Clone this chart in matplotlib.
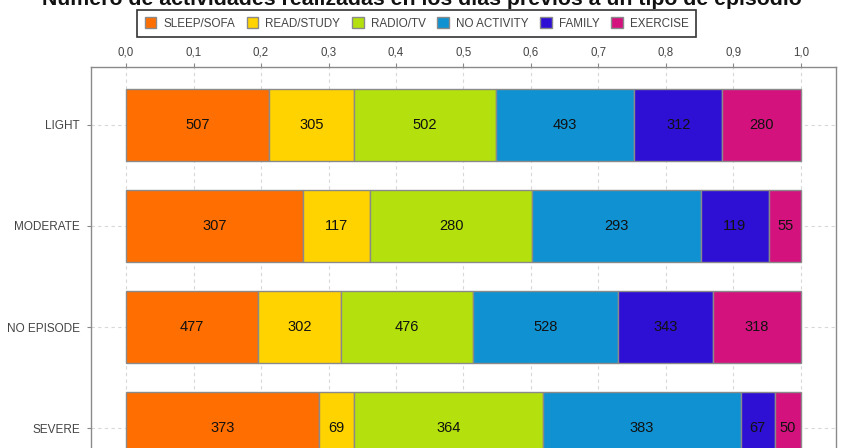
import matplotlib
matplotlib.use("Agg")
import matplotlib.pyplot as plt
import numpy as np
from matplotlib.ticker import FuncFormatter

plt.rcParams['font.family'] = ['Liberation Sans', 'DejaVu Sans']

title = "Número de actividades realizadas en los días previos a un tipo de episodio"
categories = ["LIGHT", "MODERATE", "NO EPISODE", "SEVERE"]
activities = ["SLEEP/SOFA", "READ/STUDY", "RADIO/TV", "NO ACTIVITY", "FAMILY", "EXERCISE"]
sleep_sofa = [507, 307, 477, 373]
read_study = [305, 117, 302, 69]
radio_tv = [502, 280, 476, 364]
no_activity = [493, 293, 528, 383]
family = [312, 119, 343, 67]
exercise = [280, 55, 318, 50]
colors = ["#FF6E00", "#FFD300", "#B4E10D", "#1092D2", "#2E0FD4", "#D3127E"]
x_ticks = [0.0, 0.1, 0.2, 0.3, 0.4, 0.5, 0.6, 0.7, 0.8, 0.9, 1.0]

series = np.array([sleep_sofa, read_study, radio_tv, no_activity, family, exercise], dtype=float)
totals = series.sum(axis=0)
shares = series / totals

W, H = 843, 448
fig = plt.figure(figsize=(W / 100, H / 100), dpi=100)
left, right, top, bottom = 91, 836, 67, 486
ax = fig.add_axes([left / W, (H - bottom) / H, (right - left) / W, (bottom - top) / H])

ypos = np.arange(len(categories))
ax.set_axisbelow(True)
start = np.zeros(len(categories))
for i, name in enumerate(activities):
    bars = ax.barh(ypos, shares[i], left=start, height=0.713, color=colors[i],
                   edgecolor="#8a8a8a", linewidth=1.0, label=name, zorder=2)
    for j, b in enumerate(bars):
        ax.text(start[j] + shares[i][j] / 2, ypos[j], f"{int(series[i][j])}",
                ha="center", va="center", fontsize=10.5, color="#111111", zorder=3)
    start += shares[i]

ax.set_xlim(-0.0519, 1.0519)
ax.set_ylim(3.574, -0.574)
ax.set_yticks(ypos)
ax.set_yticklabels(categories)
ax.set_xticks(x_ticks)
ax.xaxis.set_major_formatter(FuncFormatter(lambda v, p: f"{v:.1f}".replace(".", ",")))
ax.xaxis.tick_top()
ax.tick_params(axis="x", length=3, width=0.8, color="#888888", labelsize=8.3,
               labelcolor="#444444", pad=3)
ax.tick_params(axis="y", length=3, width=0.8, color="#888888", labelsize=8.5,
               labelcolor="#444444", pad=5)
ax.grid(True, linestyle=(0, (3, 3)), color="#d8d8d8", linewidth=0.8, zorder=0)
for s in ax.spines.values():
    s.set_color("#8a8a8a")
    s.set_linewidth(1.0)

fig.text(0.5, 1 - 5 / H, title, ha="center", va="baseline", fontsize=15.3,
         fontweight="bold", color="#111111")

leg = fig.legend(loc="center", bbox_to_anchor=(416.5 / W, 1 - 23.5 / H), ncol=6,
                 fontsize=8.4, frameon=True, fancybox=False, handlelength=1.0,
                 handleheight=1.0, handletextpad=0.6, columnspacing=1.0,
                 borderpad=0.65, labelcolor="#444444")
leg.get_frame().set_edgecolor("black")
leg.get_frame().set_linewidth(1.2)

fig.savefig("out.png", dpi=100)
